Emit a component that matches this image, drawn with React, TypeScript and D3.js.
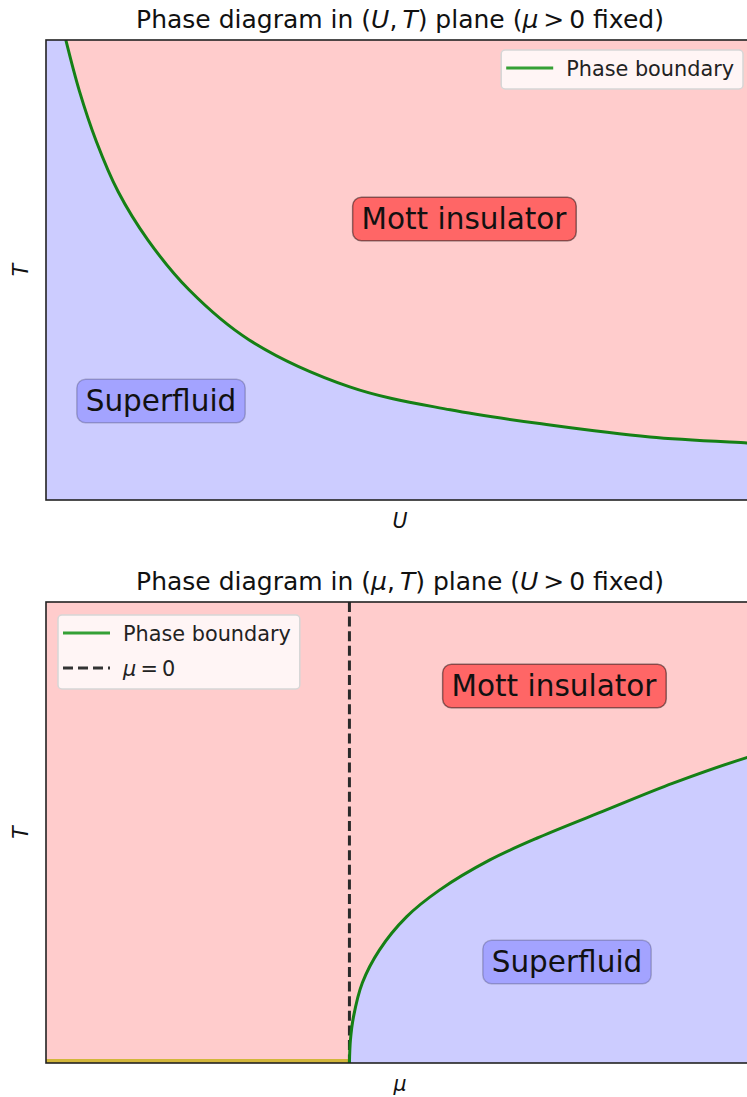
import React, { useEffect, useRef } from 'react';
import * as d3 from 'd3';

// (U, T) plane: phase boundary
const uValues = [0.28, 0.47, 0.71, 1.02, 1.44, 2.02, 2.87, 4.29, 5.71, 7.12, 8.53, 9.9, 10];
const tcOfU = [1.0, 0.89, 0.78, 0.67, 0.565, 0.457, 0.348, 0.246, 0.196, 0.163, 0.137, 0.124, 0.123];

// (mu, T) plane
const muValues = [0, 0.005, 0.02, 0.064, 0.148, 0.282, 0.445, 0.692, 0.939, 1.27, 1.6, 1.96, 2.0];
const tcOfMu = [0, 0.05, 0.1, 0.174, 0.245, 0.317, 0.375, 0.44, 0.49, 0.549, 0.607, 0.662, 0.667];
const muNegative = [-1.5, 0];
const tZero = [0, 0];

const uDomain = [0, 10];
const muDomain = [-1.5, 2];
const tDomain = [0, 1];

const W = 747;
const H = 1097;
const AX_LEFT = 46;
const AX_RIGHT = 754;
const FONT = "'DejaVu Sans', sans-serif";

const PINK = '#ffcccc';
const LIGHT_BLUE = '#ccccff';
const LINE_GREEN = '#158015';
const LEGEND_GREEN = '#35a035';
const THIN = '\u2009';

type Part = [string, boolean];

function addParts(text: any, parts: Part[]) {
  parts.forEach(([s, it]) => {
    text.append('tspan').text(s).attr('font-style', it ? 'italic' : 'normal');
  });
}

function labelBox(g: any, label: string, cx: number, cy: number, fill: string, stroke: string) {
  const fs = 29.5;
  const pad = 0.3 * fs;
  const grp = g.append('g');
  const t = grp.append('text')
    .attr('x', cx).attr('y', cy)
    .attr('text-anchor', 'middle')
    .attr('dominant-baseline', 'central')
    .attr('font-family', FONT)
    .attr('font-size', fs)
    .attr('fill', '#111')
    .text(label);
  const bb = (t.node() as SVGTextElement).getBBox();
  grp.insert('rect', 'text')
    .attr('x', bb.x - pad).attr('y', bb.y - pad * 0.55)
    .attr('width', bb.width + pad * 2).attr('height', bb.height + pad * 1.1)
    .attr('rx', pad).attr('ry', pad)
    .attr('fill', fill).attr('stroke', stroke).attr('stroke-width', 1.5);
}

interface LegendItem { parts: Part[]; color: string; dash?: string; }

function legend(g: any, items: LegendItem[], x: number, y: number, alignRight: boolean) {
  const fs = 20.8;
  const rowH = 35;
  const grp = g.append('g');
  const box = grp.append('rect');
  let maxW = 0;
  const texts = items.map((it, i) => {
    const t = grp.append('text')
      .attr('x', 0)
      .attr('y', y + 19 + i * rowH)
      .attr('dominant-baseline', 'central')
      .attr('font-family', FONT)
      .attr('font-size', fs)
      .attr('fill', '#222')
      .style('white-space', 'pre');
    addParts(t, it.parts);
    maxW = Math.max(maxW, (t.node() as SVGTextElement).getBBox().width);
    return t;
  });
  const boxW = 5 + 47 + 13 + maxW + 9;
  const boxH = 4 + rowH * items.length;
  const left = alignRight ? x - boxW : x;
  box.attr('x', left).attr('y', y).attr('width', boxW).attr('height', boxH)
    .attr('rx', 4).attr('fill', 'rgba(255,255,255,0.8)')
    .attr('stroke', '#d6d6d6').attr('stroke-width', 1.5);
  items.forEach((it, i) => {
    const ly = y + 18 + i * rowH;
    grp.append('line')
      .attr('x1', left + 5).attr('x2', left + 52)
      .attr('y1', ly).attr('y2', ly)
      .attr('stroke', it.color).attr('stroke-width', 3)
      .attr('stroke-dasharray', it.dash || null);
    texts[i].attr('x', left + 65);
  });
}

function title(svg: any, parts: Part[], baseline: number) {
  const t = svg.append('text')
    .attr('x', (AX_LEFT + AX_RIGHT) / 2).attr('y', baseline)
    .attr('text-anchor', 'middle')
    .attr('font-family', FONT)
    .attr('font-size', 25)
    .attr('fill', '#111')
    .style('white-space', 'pre');
  addParts(t, parts);
}

function axisLabels(svg: any, xl: string, top: number, bottom: number) {
  svg.append('text')
    .attr('x', (AX_LEFT + AX_RIGHT) / 2).attr('y', bottom + 28)
    .attr('text-anchor', 'middle')
    .attr('font-family', FONT).attr('font-size', 20.5)
    .attr('font-style', 'italic').attr('fill', '#111')
    .text(xl);
  const cy = (top + bottom) / 2;
  svg.append('text')
    .attr('transform', `translate(28,${cy}) rotate(-90)`)
    .attr('text-anchor', 'middle')
    .attr('font-family', FONT).attr('font-size', 20.5)
    .attr('font-style', 'italic').attr('fill', '#111')
    .text('T');
}

export default function App() {
  const svgRef = useRef<SVGSVGElement>(null);

  useEffect(() => {
    if (!svgRef.current) return;
    const svg = d3.select(svgRef.current);
    svg.selectAll('*').remove();
    const curve = d3.curveCatmullRom.alpha(0.5);

    // ---------- top panel: (U, T) ----------
    const top1 = 40, bot1 = 500;
    const x1 = d3.scaleLinear().domain(uDomain).range([AX_LEFT, AX_RIGHT]);
    const y1 = d3.scaleLinear().domain(tDomain).range([bot1, top1]);
    const uData = uValues.map((u, i) => [u, tcOfU[i]] as [number, number]);

    svg.append('clipPath').attr('id', 'clip1')
      .append('rect').attr('x', AX_LEFT).attr('y', top1)
      .attr('width', AX_RIGHT - AX_LEFT).attr('height', bot1 - top1);
    const p1 = svg.append('g').attr('clip-path', 'url(#clip1)');
    p1.append('rect').attr('x', AX_LEFT).attr('y', top1)
      .attr('width', AX_RIGHT - AX_LEFT).attr('height', bot1 - top1)
      .attr('fill', LIGHT_BLUE);
    p1.append('path').datum(uData)
      .attr('fill', PINK)
      .attr('d', d3.area<[number, number]>()
        .x(d => x1(d[0])).y0(top1).y1(d => y1(d[1]))
        .curve(curve));
    p1.append('path').datum(uData)
      .attr('fill', 'none').attr('stroke', LINE_GREEN).attr('stroke-width', 3)
      .attr('d', d3.line<[number, number]>()
        .x(d => x1(d[0])).y(d => y1(d[1]))
        .curve(curve));

    labelBox(svg, 'Mott insulator', 464, 219, '#ff6666', 'rgba(0,0,0,0.45)');
    labelBox(svg, 'Superfluid', 161, 401, '#a3a3ff', 'rgba(0,0,0,0.2)');

    svg.append('rect').attr('x', AX_LEFT).attr('y', top1)
      .attr('width', AX_RIGHT - AX_LEFT).attr('height', bot1 - top1)
      .attr('fill', 'none').attr('stroke', '#222').attr('stroke-width', 1.6);

    legend(svg, [{ parts: [['Phase boundary', false]], color: LEGEND_GREEN }], 743, 50, true);
    title(svg, [['Phase diagram in (', false], ['U', true], [',' + THIN, false], ['T', true],
      [') plane (', false], ['μ', true], [THIN + '>' + THIN + '0 fixed)', false]], 28);
    axisLabels(svg, 'U', top1, bot1);

    // ---------- bottom panel: (mu, T) ----------
    const top2 = 602, bot2 = 1063;
    const x2 = d3.scaleLinear().domain(muDomain).range([AX_LEFT, AX_RIGHT]);
    const y2 = d3.scaleLinear().domain(tDomain).range([bot2, top2]);
    const muData = muValues.map((m, i) => [m, tcOfMu[i]] as [number, number]);
    const negData = muNegative.map((m, i) => [m, tZero[i]] as [number, number]);

    svg.append('clipPath').attr('id', 'clip2')
      .append('rect').attr('x', AX_LEFT).attr('y', top2)
      .attr('width', AX_RIGHT - AX_LEFT).attr('height', bot2 - top2);
    const p2 = svg.append('g').attr('clip-path', 'url(#clip2)');
    p2.append('rect').attr('x', AX_LEFT).attr('y', top2)
      .attr('width', AX_RIGHT - AX_LEFT).attr('height', bot2 - top2)
      .attr('fill', PINK);
    p2.append('path').datum(muData)
      .attr('fill', LIGHT_BLUE)
      .attr('d', d3.area<[number, number]>()
        .x(d => x2(d[0])).y0(y2(0)).y1(d => y2(d[1]))
        .curve(curve));
    p2.append('path').datum(negData)
      .attr('fill', 'none').attr('stroke', '#d2b63a').attr('stroke-width', 8)
      .attr('d', d3.line<[number, number]>().x(d => x2(d[0])).y(d => y2(d[1])));
    p2.append('line')
      .attr('x1', x2(0)).attr('x2', x2(0)).attr('y1', top2).attr('y2', bot2)
      .attr('stroke', '#2a2a2a').attr('stroke-width', 3)
      .attr('stroke-dasharray', '10,4.6');
    p2.append('path').datum(muData)
      .attr('fill', 'none').attr('stroke', LINE_GREEN).attr('stroke-width', 3)
      .attr('d', d3.line<[number, number]>()
        .x(d => x2(d[0])).y(d => y2(d[1]))
        .curve(curve));

    labelBox(svg, 'Mott insulator', 554, 686, '#ff6666', 'rgba(0,0,0,0.45)');
    labelBox(svg, 'Superfluid', 567, 962, '#a3a3ff', 'rgba(0,0,0,0.2)');

    svg.append('rect').attr('x', AX_LEFT).attr('y', top2)
      .attr('width', AX_RIGHT - AX_LEFT).attr('height', bot2 - top2)
      .attr('fill', 'none').attr('stroke', '#222').attr('stroke-width', 1.6);

    legend(svg, [
      { parts: [['Phase boundary', false]], color: LEGEND_GREEN },
      { parts: [['μ', true], [THIN + '=' + THIN + '0', false]], color: '#333', dash: '10,5' },
    ], 58, 615, false);
    title(svg, [['Phase diagram in (', false], ['μ', true], [',' + THIN, false], ['T', true],
      [') plane (', false], ['U', true], [THIN + '>' + THIN + '0 fixed)', false]], 590);
    axisLabels(svg, 'μ', top2, bot2);
  }, []);

  return (
    <div>
      <style>{'body{margin:0;background:#fff}'}</style>
      <svg ref={svgRef} width={W} height={H} style={{ display: 'block' }} />
    </div>
  );
}
